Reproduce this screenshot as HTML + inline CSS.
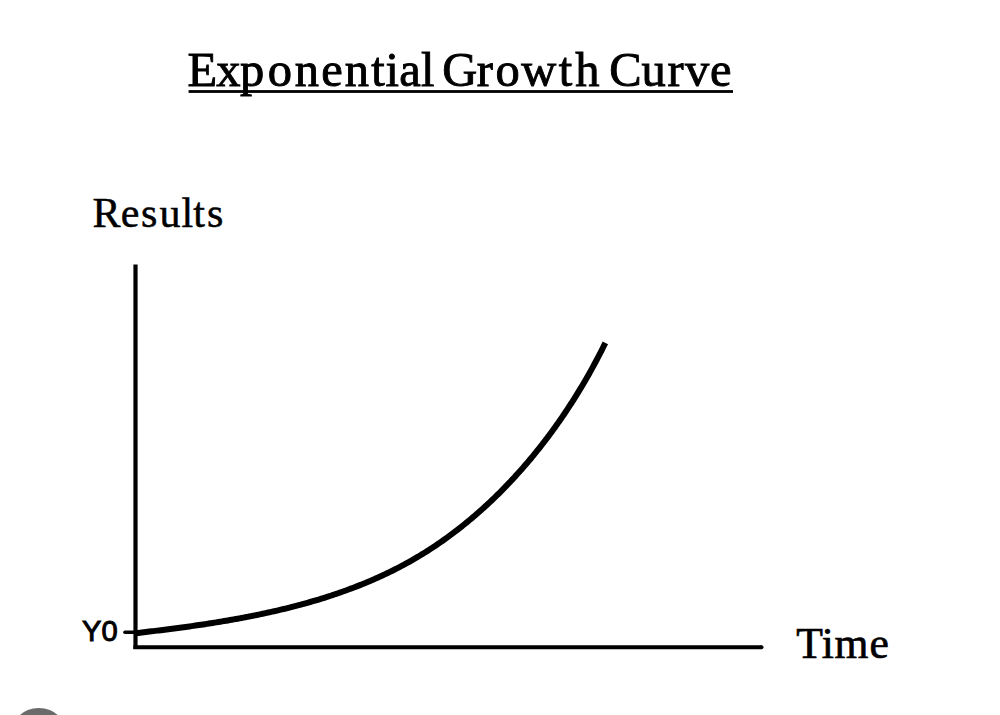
<!DOCTYPE html>
<html><head><meta charset="utf-8"><title>Exponential Growth Curve</title>
<style>
html,body{margin:0;padding:0;background:#fff;width:1000px;height:715px;overflow:hidden}
svg{display:block}
</style></head>
<body>
<svg width="1000" height="715" viewBox="0 0 1000 715">
<rect width="1000" height="715" fill="#fff"/>
<text id="title" y="85.8" font-family="'Liberation Serif', serif" font-size="48.5" fill="#000" stroke="#000" stroke-width="0.9"><tspan x="187.6 216.2 240.0 267.8 294.8 321.3 344.7 371.3 385.6 399.3 421.0">Exponential</tspan> <tspan x="442.3 476.7 495.6 521.2 558.7 575.3">Growth</tspan> <tspan x="609.2 641.5 667.5 685.0 710.1">Curve</tspan></text>
<rect x="188.6" y="90.1" width="544.4" height="2.8" fill="#000"/>
<text id="results" x="92.6 120.7 141.0 159.6 181.4 193.3 206.9" y="227.4" font-family="'Liberation Serif', serif" font-size="42" fill="#000" stroke="#000" stroke-width="0.5">Results</text>
<text id="time" x="796.2 821.7 834.4 869.6" y="657.6" font-family="'Liberation Serif', serif" font-size="43.6" fill="#000" stroke="#000" stroke-width="0.7">Time</text>
<text id="y0" x="82" y="640.9" font-family="'Liberation Sans', sans-serif" font-size="29.4" fill="#000" stroke="#000" stroke-width="1" textLength="35.6" lengthAdjust="spacingAndGlyphs">Y0</text>
<line x1="135.5" y1="264.5" x2="135.5" y2="649" stroke="#000" stroke-width="4.2"/>
<line x1="133.4" y1="647.2" x2="761.5" y2="647.2" stroke="#000" stroke-width="4"/>
<circle cx="761.5" cy="647.2" r="2" fill="#000"/>
<line x1="125" y1="632.3" x2="136" y2="632.3" stroke="#000" stroke-width="3.6" stroke-linecap="round"/>
<path id="curve" d="M136.52,633.09 L138.21,632.90 L140.18,632.67 L141.87,632.47 L143.84,632.24 L145.82,632.01 L147.52,631.81 L149.50,631.57 L151.48,631.33 L153.18,631.13 L155.17,630.89 L157.16,630.64 L158.87,630.43 L160.86,630.19 L162.85,629.94 L164.56,629.72 L166.56,629.47 L168.56,629.22 L170.28,629.00 L172.28,628.74 L174.28,628.48 L176.00,628.25 L178.01,627.98 L180.02,627.71 L181.74,627.48 L183.75,627.21 L185.76,626.93 L187.49,626.69 L189.50,626.41 L191.52,626.12 L193.24,625.88 L195.26,625.59 L197.28,625.29 L199.01,625.04 L201.03,624.74 L203.05,624.44 L204.78,624.18 L206.80,623.87 L208.82,623.56 L210.56,623.28 L212.58,622.97 L214.60,622.64 L216.33,622.36 L218.36,622.03 L220.38,621.70 L222.12,621.41 L224.14,621.07 L226.16,620.73 L227.90,620.43 L229.92,620.08 L231.95,619.72 L233.68,619.41 L235.70,619.05 L237.73,618.68 L239.46,618.36 L241.48,617.99 L243.50,617.61 L245.24,617.28 L247.26,616.89 L249.28,616.50 L251.01,616.15 L253.03,615.75 L255.05,615.35 L256.78,614.99 L258.79,614.58 L260.81,614.15 L262.54,613.79 L264.55,613.36 L266.56,612.92 L268.29,612.55 L270.30,612.10 L272.31,611.65 L274.03,611.26 L276.04,610.80 L278.04,610.33 L279.76,609.93 L281.76,609.45 L283.76,608.97 L285.48,608.55 L287.48,608.06 L289.47,607.56 L291.18,607.13 L293.17,606.62 L295.17,606.10 L296.87,605.66 L298.86,605.13 L300.84,604.60 L302.54,604.13 L304.52,603.59 L306.50,603.04 L308.20,602.56 L310.17,602.00 L312.15,601.43 L313.83,600.94 L315.80,600.35 L317.77,599.77 L319.45,599.26 L321.41,598.66 L323.37,598.05 L325.04,597.52 L327.00,596.90 L328.67,596.36 L330.61,595.73 L332.56,595.09 L334.22,594.53 L336.16,593.88 L338.10,593.22 L339.75,592.65 L341.68,591.97 L343.61,591.29 L345.25,590.70 L347.17,590.00 L349.09,589.29 L350.73,588.69 L352.64,587.97 L354.54,587.24 L356.17,586.61 L358.07,585.87 L359.97,585.12 L361.59,584.47 L363.48,583.71 L365.36,582.94 L366.97,582.27 L368.85,581.48 L370.72,580.68 L372.32,580.00 L374.19,579.18 L376.05,578.36 L377.64,577.65 L379.49,576.82 L381.34,575.97 L382.92,575.24 L384.75,574.38 L386.59,573.51 L388.16,572.76 L389.98,571.87 L391.80,570.98 L393.36,570.20 L395.17,569.29 L396.98,568.37 L398.52,567.57 L400.32,566.64 L402.11,565.69 L403.64,564.87 L405.43,563.90 L407.20,562.93 L408.72,562.09 L410.49,561.09 L412.25,560.09 L413.76,559.22 L415.51,558.20 L417.26,557.17 L418.75,556.28 L420.48,555.24 L422.22,554.18 L423.69,553.27 L425.41,552.19 L427.13,551.11 L428.59,550.18 L430.30,549.08 L432.00,547.97 L433.45,547.01 L435.14,545.89 L436.82,544.75 L438.26,543.77 L439.93,542.62 L441.60,541.46 L443.03,540.46 L444.68,539.29 L446.33,538.11 L447.74,537.08 L449.38,535.89 L451.02,534.68 L452.42,533.64 L454.04,532.41 L455.66,531.18 L457.04,530.12 L458.65,528.88 L460.25,527.62 L461.62,526.54 L463.22,525.27 L464.80,523.99 L466.16,522.89 L467.73,521.60 L469.30,520.30 L470.64,519.19 L472.20,517.87 L473.76,516.55 L475.08,515.42 L476.63,514.08 L478.16,512.74 L479.48,511.58 L481.00,510.23 L482.52,508.87 L483.82,507.69 L485.33,506.32 L486.84,504.94 L488.12,503.74 L489.61,502.35 L491.10,500.95 L492.37,499.74 L493.85,498.33 L495.11,497.11 L496.57,495.68 L498.03,494.25 L499.28,493.01 L500.73,491.57 L502.17,490.11 L503.40,488.86 L504.83,487.40 L506.26,485.93 L507.47,484.66 L508.89,483.18 L510.30,481.69 L511.50,480.41 L512.90,478.92 L514.29,477.41 L515.47,476.12 L516.85,474.60 L518.23,473.08 L519.40,471.77 L520.76,470.24 L522.12,468.70 L523.28,467.38 L524.62,465.83 L525.96,464.27 L527.11,462.94 L528.43,461.38 L529.76,459.81 L530.88,458.46 L532.20,456.88 L533.50,455.30 L534.61,453.93 L535.91,452.34 L537.19,450.74 L538.29,449.37 L539.57,447.76 L540.84,446.15 L541.92,444.77 L543.18,443.15 L544.43,441.52 L545.50,440.12 L546.74,438.49 L547.97,436.85 L549.02,435.45 L550.25,433.80 L551.46,432.15 L552.50,430.73 L553.70,429.07 L554.90,427.41 L555.92,425.98 L557.11,424.31 L558.29,422.64 L559.30,421.20 L560.46,419.52 L561.63,417.84 L562.62,416.39 L563.77,414.70 L564.91,413.00 L565.89,411.55 L567.02,409.85 L568.14,408.14 L569.10,406.68 L570.22,404.96 L571.33,403.25 L572.27,401.78 L573.37,400.06 L574.45,398.33 L575.38,396.85 L576.46,395.12 L577.53,393.39 L578.44,391.90 L579.50,390.16 L580.55,388.42 L581.45,386.93 L582.49,385.18 L583.52,383.43 L584.41,381.93 L585.43,380.18 L586.44,378.43 L587.31,376.92 L588.31,375.16 L589.31,373.40 L590.16,371.88 L591.14,370.12 L592.12,368.35 L592.95,366.83 L593.92,365.06 L594.87,363.28 L595.69,361.76 L596.64,359.98 L597.58,358.20 L598.38,356.67 L599.30,354.89 L600.23,353.11 L601.01,351.58 L601.92,349.79 L602.82,348.00 L603.59,346.46 L604.48,344.67 L605.36,342.88" fill="none" stroke="#000" stroke-width="6"/>
<circle cx="38.8" cy="736.6" r="28.7" fill="#6a6a6a"/>
</svg>
</body></html>
